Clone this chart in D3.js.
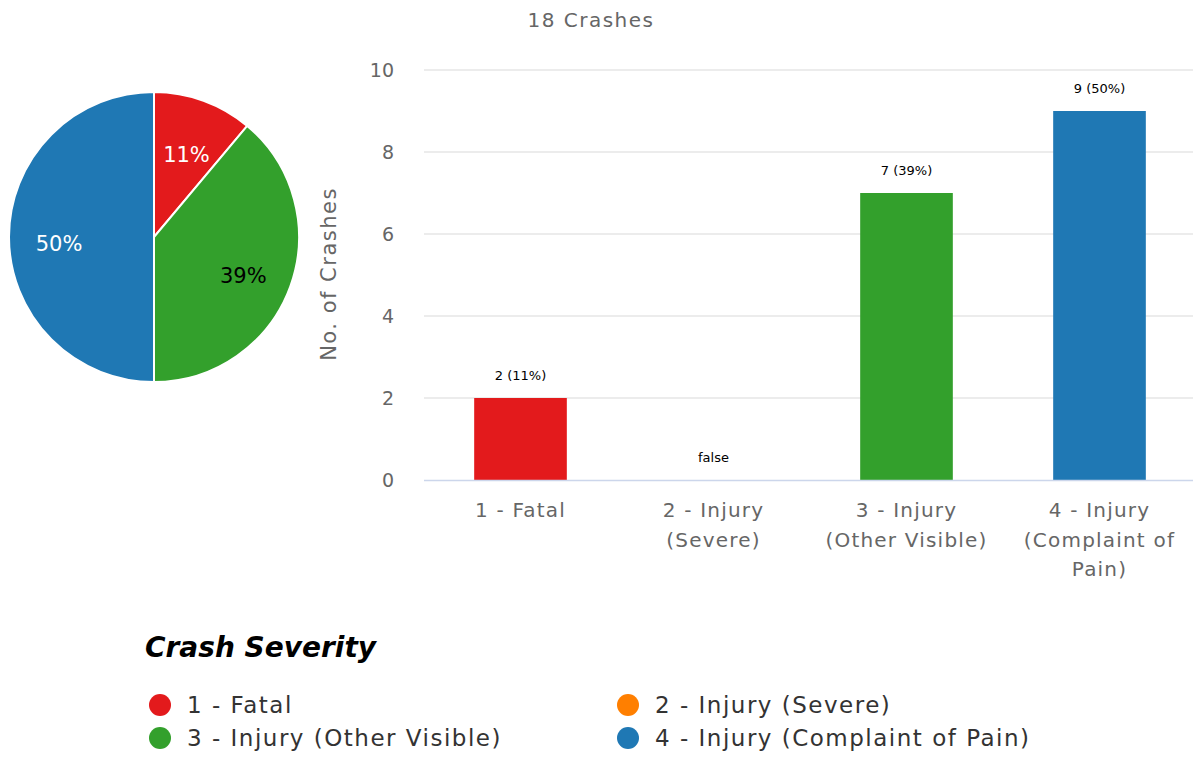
<!DOCTYPE html>
<html>
<head>
<meta charset="utf-8">
<script src="https://cdn.jsdelivr.net/npm/d3@7"></script>
<style>
  body { margin: 0; background: #fff; }
  text { font-family: "DejaVu Sans", sans-serif; }
</style>
</head>
<body>
<div id="chart"></div>
<script>
// data
const categories = ["1 - Fatal", "2 - Injury (Severe)", "3 - Injury (Other Visible)", "4 - Injury (Complaint of Pain)"];
const tickLines = [["1 - Fatal"], ["2 - Injury", "(Severe)"], ["3 - Injury", "(Other Visible)"], ["4 - Injury", "(Complaint of", "Pain)"]];
const counts = [2, 0, 7, 9];
const colors = ["#e31a1c", "#ff7f00", "#33a02c", "#1f78b4"];
const yTicks = [0, 2, 4, 6, 8, 10];

const width = 1193, height = 757;
const total = d3.sum(counts);
const pct = v => Math.round(v / total * 100) + "%";

const svg = d3.select("#chart").append("svg")
    .attr("width", width).attr("height", height);

// pie
const pieData = d3.pie().sort(null).value(d => d.v)(counts.map((v, i) => ({v, i})).filter(d => d.v > 0));
const arc = d3.arc().innerRadius(0).outerRadius(145);
const labelArc = d3.arc().innerRadius(95).outerRadius(95);
const gPie = svg.append("g").attr("transform", "translate(154,237)");
gPie.selectAll("path").data(pieData).enter().append("path")
    .attr("d", arc)
    .attr("fill", d => colors[d.data.i])
    .attr("stroke", "#fff").attr("stroke-width", 2);
gPie.selectAll("text").data(pieData).enter().append("text")
    .attr("transform", d => `translate(${labelArc.centroid(d)})`)
    .attr("text-anchor", "middle").attr("dy", 14)
    .attr("font-size", 21)
    .attr("fill", d => d.data.i == 2 ? "#000" : "#fff")
    .text(d => pct(d.data.v));

// bar chart
const x = d3.scaleBand().domain(categories).range([424, 1196]).paddingInner(0.52).paddingOuter(0.26);
const y = d3.scaleLinear().domain([0, 10]).range([480, 70]);

svg.append("text").attr("x", 591).attr("y", 27).attr("text-anchor", "middle")
    .attr("font-size", 20).attr("letter-spacing", 1.5).attr("fill", "#666").text(total + " Crashes");

const gGrid = svg.append("g");
gGrid.selectAll("line").data(yTicks.filter(t => t > 0)).enter().append("line")
    .attr("x1", 424).attr("x2", width).attr("y1", d => y(d)).attr("y2", d => y(d))
    .attr("stroke", "#e6e6e6").attr("stroke-width", 1.5);

const yAxis = svg.append("g").attr("transform", "translate(424,0)")
    .call(d3.axisLeft(y).tickValues(yTicks).tickSize(0).tickPadding(30));
yAxis.select(".domain").remove();
yAxis.selectAll("text").attr("font-size", 19).attr("fill", "#666")
    .style("font-family", "'DejaVu Sans', sans-serif");

svg.append("text").attr("transform", "translate(336,274) rotate(-90)")
    .attr("text-anchor", "middle").attr("font-size", 21).attr("letter-spacing", 1.5).attr("fill", "#666")
    .text("No. of Crashes");

svg.selectAll("rect.bar").data(counts).enter().append("rect")
    .attr("class", "bar")
    .attr("x", (d, i) => x(categories[i]))
    .attr("width", x.bandwidth())
    .attr("y", d => y(d)).attr("height", d => y(0) - y(d))
    .attr("fill", (d, i) => colors[i]);

svg.append("line").attr("x1", 424).attr("x2", width).attr("y1", 480.5).attr("y2", 480.5)
    .attr("stroke", "#ccd6eb").attr("stroke-width", 1.5);

svg.selectAll("text.dl").data(counts).enter().append("text")
    .attr("class", "dl")
    .attr("x", (d, i) => x(categories[i]) + x.bandwidth() / 2)
    .attr("y", d => y(d) - 18)
    .attr("text-anchor", "middle").attr("font-size", 13).attr("fill", "#000")
    .text(d => d > 0 ? `${d} (${pct(d)})` : "false");

const gx = svg.append("g");
categories.forEach((c, i) => {
  const cx = x(c) + x.bandwidth() / 2;
  const t = gx.append("text")
    .attr("x", cx).attr("y", 517)
    .attr("text-anchor", "middle").attr("font-size", 20).attr("letter-spacing", 1.2).attr("fill", "#666");
  tickLines[i].forEach((l, j) => {
    t.append("tspan").attr("x", cx).attr("dy", j ? 29.5 : 0).text(l);
  });
});

// legend
svg.append("text").attr("x", 145).attr("y", 657)
    .attr("font-size", 28).attr("font-weight", "bold").attr("font-style", "italic")
    .attr("fill", "#000").text("Crash Severity");

const legPos = [[160, 705], [628, 705], [160, 738], [628, 738]];
const gl = svg.selectAll("g.leg").data(categories).enter().append("g")
    .attr("class", "leg")
    .attr("transform", (d, i) => `translate(${legPos[i][0]},${legPos[i][1]})`);
gl.append("circle").attr("r", 11).attr("fill", (d, i) => colors[i]);
gl.append("text").attr("x", 27).attr("dy", "0.35em").attr("font-size", 23).attr("letter-spacing", 1.5)
    .attr("fill", "#333").text(d => d);
</script>
</body>
</html>
